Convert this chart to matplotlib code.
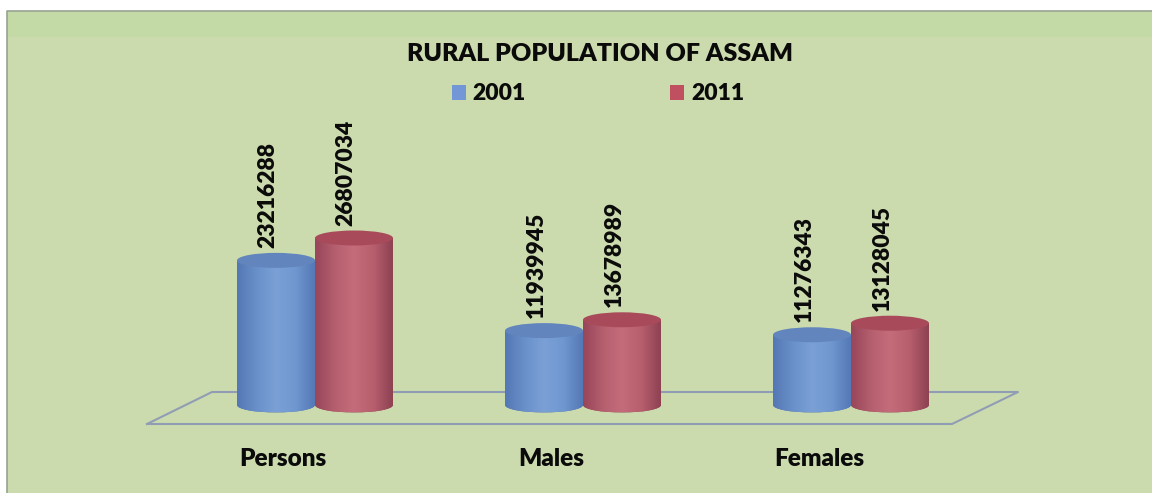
import matplotlib
matplotlib.use("Agg")
import matplotlib.pyplot as plt
import numpy as np
from matplotlib.colors import LinearSegmentedColormap
from matplotlib.patches import Ellipse, Rectangle, Patch

categories = ["Persons", "Males", "Females"]
years = ["2001", "2011"]
values_2001 = [23216288, 11939945, 11276343]
values_2011 = [26807034, 13678989, 13128045]

W, H = 1152, 493
BASE_PX = 405
PX_PER_UNIT = 167 / 26807034
STEP_PX = 268
FIRST_PX = 315
BAR_W = 78 / STEP_PX
CAP_H = 15 / PX_PER_UNIT

plt.rcParams["font.family"] = ["Lato", "DejaVu Sans"]
plt.rcParams["font.weight"] = "heavy"

fig = plt.figure(figsize=(W / 100, H / 100), dpi=100, facecolor="white")
ax = fig.add_axes([0, 0, 1, 1])
ax.set_xlim(-FIRST_PX / STEP_PX, (W - FIRST_PX) / STEP_PX)
ax.set_ylim(-(H - BASE_PX) / PX_PER_UNIT, BASE_PX / PX_PER_UNIT)
ax.axis("off")


def px(x, y):
    return x / W, 1 - y / H


# background panel
ax.add_patch(Rectangle(px(7, H), (W - 7) / W, (H - 11) / H, transform=ax.transAxes,
                       facecolor="#cbdbad", edgecolor="none", zorder=0))
ax.add_patch(Rectangle(px(8, 37), (W - 8) / W, 25 / H, transform=ax.transAxes,
                       facecolor="#c3d9a6", edgecolor="none", zorder=0.1))
ax.plot([7 / W, 7 / W, 1], [0, 1 - 11 / H, 1 - 11 / H], transform=ax.transAxes,
        color="#98a292", lw=1.2, zorder=0.2)

# floor of the 3d chart
floor_x = np.array([147, 952, 1018, 212, 147]) / W
floor_y = 1 - np.array([424, 424, 392, 392, 424]) / H
ax.plot(floor_x, floor_y, transform=ax.transAxes, color="#919db5", lw=1.5, zorder=1)


def cylinder(x, value, colors, cap_color, z):
    cmap = LinearSegmentedColormap.from_list("c", colors)
    left, right = x - BAR_W / 2, x + BAR_W / 2
    bottom = Ellipse((x, 0), BAR_W, CAP_H, facecolor=colors[0], edgecolor="none", zorder=z)
    ax.add_patch(bottom)
    body = ax.bar(x, value, BAR_W, color="none", zorder=z)[0]
    grad = np.linspace(0, 1, 80).reshape(1, -1)
    im = ax.imshow(grad, extent=(left, right, 0, value), aspect="auto", cmap=cmap,
                   vmin=0, vmax=1, zorder=z + 0.1)
    im.set_clip_path(Rectangle((left, 0), BAR_W, value, transform=ax.transData))
    bottom_im = ax.imshow(grad, extent=(left, right, -CAP_H / 2, 0), aspect="auto", cmap=cmap,
                          vmin=0, vmax=1, zorder=z + 0.1)
    bottom_im.set_clip_path(bottom)
    ax.add_patch(Ellipse((x, value), BAR_W, CAP_H, facecolor=cap_color, edgecolor="none",
                         zorder=z + 0.2))
    ax.annotate(f"{value}", (x, value), xytext=(-5.5, 9), textcoords="offset points",
                rotation=90, ha="center", va="bottom", fontsize=16.5, color="#0a0a0a", zorder=6)
    return body


blue_colors = ["#5478b4", "#6a90ca", "#7aa0d6", "#7098d0", "#5579b6"]
red_colors = ["#98465a", "#b55f6e", "#c56c7a", "#b85f6e", "#8e4252"]
xpos = np.arange(len(categories))
for i, cat in enumerate(categories):
    cylinder(xpos[i] - BAR_W / 2, values_2001[i], blue_colors, "#6285bd", 3)
    cylinder(xpos[i] + BAR_W / 2, values_2011[i], red_colors, "#a84a5a", 4)
    ax.annotate(cat, (xpos[i], 0), xytext=(-23, -39), textcoords="offset points",
                ha="center", va="center", fontsize=17.5, color="#0a0a0a")

ax.text(600 / W, 1 - 54 / H, "RURAL POPULATION OF ASSAM", transform=ax.transAxes,
        ha="center", va="center", fontsize=18, color="#0a0a0a")

handles = [Patch(facecolor="#7396d6", label=years[0]), Patch(facecolor="#c0505f", label=years[1])]
ax.legend(handles=handles, ncol=2, loc="center", bbox_to_anchor=(598 / W, 1 - 94 / H),
          frameon=False, fontsize=16.5, handlelength=0.62, handleheight=0.62,
          columnspacing=6.3, handletextpad=0.3, labelcolor="#0a0a0a")

fig.savefig("out.png", dpi=100)
